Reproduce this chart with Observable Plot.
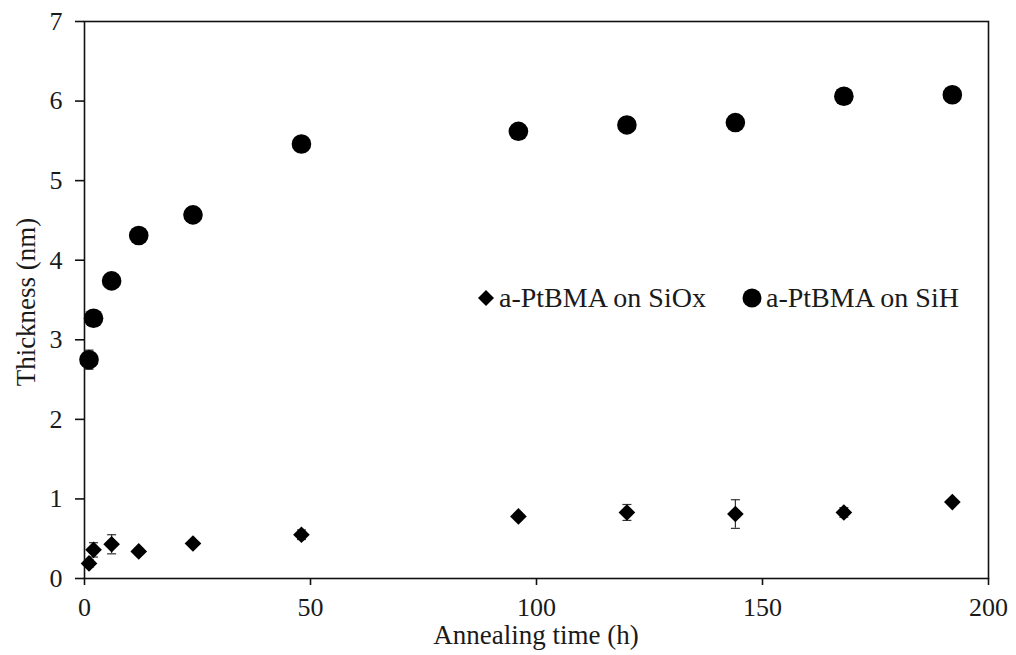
<!DOCTYPE html>
<html><head><meta charset="utf-8">
<script src="https://cdn.jsdelivr.net/npm/d3@7"></script>
<script src="https://cdn.jsdelivr.net/npm/@observablehq/plot@0.6"></script>
<style>
body{margin:0;background:#fff;}
</style></head>
<body><div id="wrap"></div>
<script>
const timesSiOx = [1, 2, 6, 12, 24, 48, 96, 120, 144, 168, 192];
const thickSiOx = [0.19, 0.36, 0.43, 0.34, 0.44, 0.55, 0.78, 0.83, 0.81, 0.83, 0.96];
const errSiOx   = [0.05, 0.09, 0.12, 0.04, 0.03, 0.06, 0.04, 0.10, 0.18, 0.06, 0.03];
const timesSiH  = [1, 2, 6, 12, 24, 48, 96, 120, 144, 168, 192];
const thickSiH  = [2.75, 3.27, 3.74, 4.31, 4.57, 5.46, 5.62, 5.70, 5.73, 6.06, 6.08];
const errSiH    = [0.12, 0.04, 0.04, 0.04, 0.04, 0.04, 0.09, 0.04, 0.04, 0.04, 0.04];
const seriesNames = ["a-PtBMA on SiOx", "a-PtBMA on SiH"];
const xTicks = [0, 50, 100, 150, 200];
const yTicks = [0, 1, 2, 3, 4, 5, 6, 7];
const xTitle = "Annealing time (h)";
const yTitle = "Thickness (nm)";

const FONT = '"Liberation Serif","Times New Roman",serif';
const siox = timesSiOx.map((t,i)=>({x:t,y:thickSiOx[i],e:errSiOx[i]}));
const sih = timesSiH.map((t,i)=>({x:t,y:thickSiH[i],e:errSiH[i]}));
const all = siox.concat(sih);
const cap = {draw(ctx, size){ const w = 4.5; ctx.moveTo(-w,0); ctx.lineTo(w,0); }};

const chart = Plot.plot({
  width: 1016, height: 655,
  marginLeft: 84, marginRight: 28, marginTop: 21, marginBottom: 77,
  style: {fontFamily: FONT, fontSize: "27px", color: "#1a1a1a", background: "#fff"},
  x: {domain: [0, 200], ticks: xTicks, label: null},
  y: {domain: [0, 7], ticks: yTicks, label: null},
  marks: [
    Plot.frame({stroke: "#111", strokeWidth: 1.6}),
    Plot.axisX({ticks: xTicks, tickSize: 7, tickPadding: 12, stroke: "#111", strokeWidth: 1.6, label: null, fontSize: 26, tickFormat: d=>String(d)}),
    Plot.axisY({ticks: yTicks, tickSize: 9, tickPadding: 13, stroke: "#111", strokeWidth: 1.6, label: null, fontSize: 26, tickFormat: d=>String(d)}),
    Plot.ruleX(all, {x: "x", y1: d=>d.y-d.e, y2: d=>d.y+d.e, stroke: "#333", strokeWidth: 1.2}),
    Plot.dot(all, {x: "x", y: d=>d.y-d.e, symbol: cap, stroke: "#333", strokeWidth: 1.2, r: 3}),
    Plot.dot(all, {x: "x", y: d=>d.y+d.e, symbol: cap, stroke: "#333", strokeWidth: 1.2, r: 3}),
    Plot.dot(siox, {x: "x", y: "y", symbol: "diamond2", fill: "#000", r: 7.5}),
    Plot.dot(sih, {x: "x", y: "y", symbol: "circle", fill: "#000", r: 9.8})
  ]
});
document.getElementById("wrap").appendChild(chart);

const svg = d3.select(chart);
svg.append("text").attr("x", 536).attr("y", 644).attr("text-anchor","middle")
  .attr("font-family", FONT).attr("font-size", 27).attr("fill","#1a1a1a").text(xTitle);
svg.append("text").attr("transform","translate(35,302) rotate(-90)").attr("text-anchor","middle")
  .attr("font-family", FONT).attr("font-size", 27).attr("fill","#1a1a1a").text(yTitle);

// legend
const lg = svg.append("g").attr("font-family", FONT).attr("font-size", 28).attr("fill", "#1a1a1a").attr("text-anchor", "start");
lg.append("path").attr("d", "M486,290L494,298L486,306L478,298Z").attr("fill", "#000");
lg.append("text").attr("x", 499).attr("y", 307).attr("text-anchor", "start").text(seriesNames[0]);
lg.append("circle").attr("cx", 752).attr("cy", 298).attr("r", 9.5).attr("fill", "#000");
lg.append("text").attr("x", 766).attr("y", 307).attr("text-anchor", "start").text(seriesNames[1]);
</script></body></html>
